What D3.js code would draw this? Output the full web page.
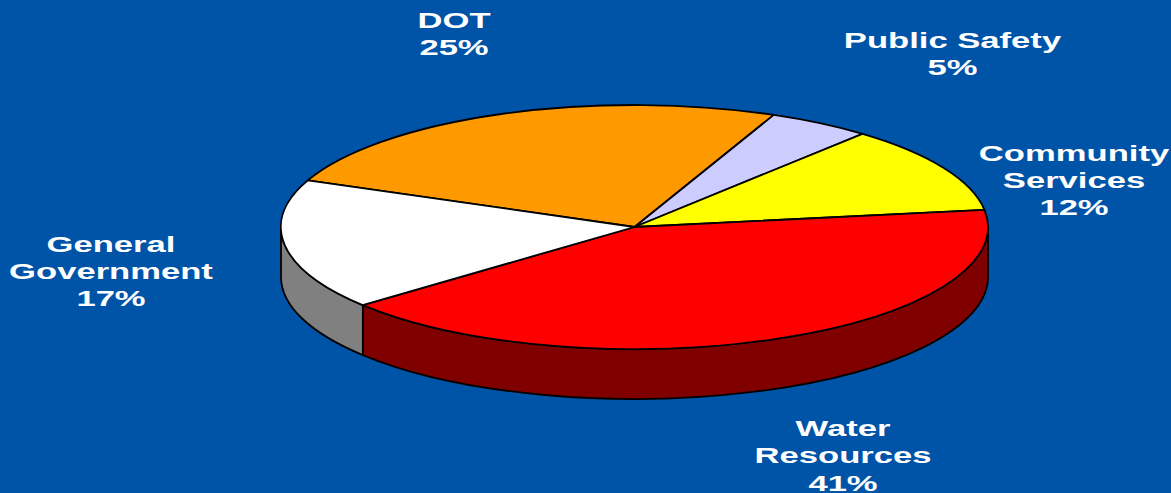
<!DOCTYPE html>
<html lang="en">
<head>
    <meta charset="UTF-8">
    <script src="https://d3js.org/d3.v7.min.js"></script>
    <title>Budget Pie</title>
    <style>
        html, body { margin: 0; padding: 0; background: #0054a8; overflow: hidden; }
        svg { display: block; }
        text { font-family: "Liberation Sans", Arial, sans-serif; font-weight: bold; font-size: 21.5px; fill: #fff; }
        path { stroke: #000; stroke-width: 1.8px; stroke-linejoin: round; }
    </style>
</head>
<body>
    <div id="container"></div>
    <script>
        // data, slice order is clockwise starting at DOT
        const categories = ["DOT", "Public Safety", "Community Services", "Water Resources", "General Government"]
        const shares = [25.2, 4.7, 11.6, 41.2, 17.3]
        const labelLines = [["DOT"], ["Public Safety"], ["Community", "Services"], ["Water", "Resources"], ["General", "Government"]]
        const topColors = ["#ff9900", "#ccccff", "#ffff00", "#ff0000", "#ffffff"]
        const sideColors = ["#804c00", "#666680", "#808000", "#800000", "#808080"]

        /*------------------- layout --------------------*/
        const width = 1171, height = 493
        const cx = 634.5, cy = 227, rx = 353.5, ry = 122, depth = 50
        const startAngle = -67.5 * Math.PI / 180
        const lineHeight = 27.5
        const textStretch = 1.61
        // centre x and first baseline of each label block
        const labelSpots = [[454, 27.5], [952.5, 47.5], [1074, 160.5], [843, 436], [111, 251.5]]

        const svg = d3.select("#container").append("svg")
            .attr("width", width)
            .attr("height", height)

        const pie = d3.pie().sort(null).startAngle(startAngle).endAngle(startAngle + 2 * Math.PI)
        const slices = pie(shares)

        const arc = d3.arc().innerRadius(0).outerRadius(1)

        // point on the rim of the flattened disc
        const rimX = a => cx + rx * Math.sin(a)
        const rimY = a => cy - ry * Math.cos(a)

        /*------------------- side wall --------------------*/
        // only the front half of the rim shows, between 90 and 270 degrees
        const frontFrom = Math.PI / 2, frontTo = 3 * Math.PI / 2
        function wallPath(d) {
            const a0 = Math.max(norm(d.startAngle), frontFrom)
            const a1 = Math.min(norm(d.startAngle) + (d.endAngle - d.startAngle), frontTo)
            if (a1 <= a0) return null
            return `M${rimX(a0)},${rimY(a0)}`
                + `A${rx},${ry} 0 0 1 ${rimX(a1)},${rimY(a1)}`
                + `L${rimX(a1)},${rimY(a1) + depth}`
                + `A${rx},${ry} 0 0 0 ${rimX(a0)},${rimY(a0) + depth}Z`
        }
        function norm(a) {
            return a < 0 ? a + 2 * Math.PI : a
        }

        svg.append("g").selectAll("path")
            .data(slices.filter(d => wallPath(d)))
            .enter()
            .append("path")
            .attr("d", wallPath)
            .attr("fill", d => sideColors[d.index])

        /*------------------- top face --------------------*/
        svg.append("g")
            .attr("transform", `translate(${cx},${cy}) scale(${rx},${ry})`)
            .selectAll("path")
            .data(slices)
            .enter()
            .append("path")
            .attr("d", arc)
            .attr("vector-effect", "non-scaling-stroke")
            .attr("fill", d => topColors[d.index])

        /*------------------- labels --------------------*/
        const labels = svg.append("g").selectAll("g")
            .data(categories)
            .enter()
            .append("g")
            .attr("transform", (d, i) => `translate(${labelSpots[i][0]},${labelSpots[i][1]}) scale(${textStretch},1)`)

        labels.each(function (d, i) {
            const lines = labelLines[i].concat(d3.format(".0f")(shares[i]) + "%")
            d3.select(this).selectAll("text")
                .data(lines)
                .enter()
                .append("text")
                .attr("text-anchor", "middle")
                .attr("y", (t, j) => j * lineHeight)
                .text(t => t)
        })
    </script>
</body>
</html>
